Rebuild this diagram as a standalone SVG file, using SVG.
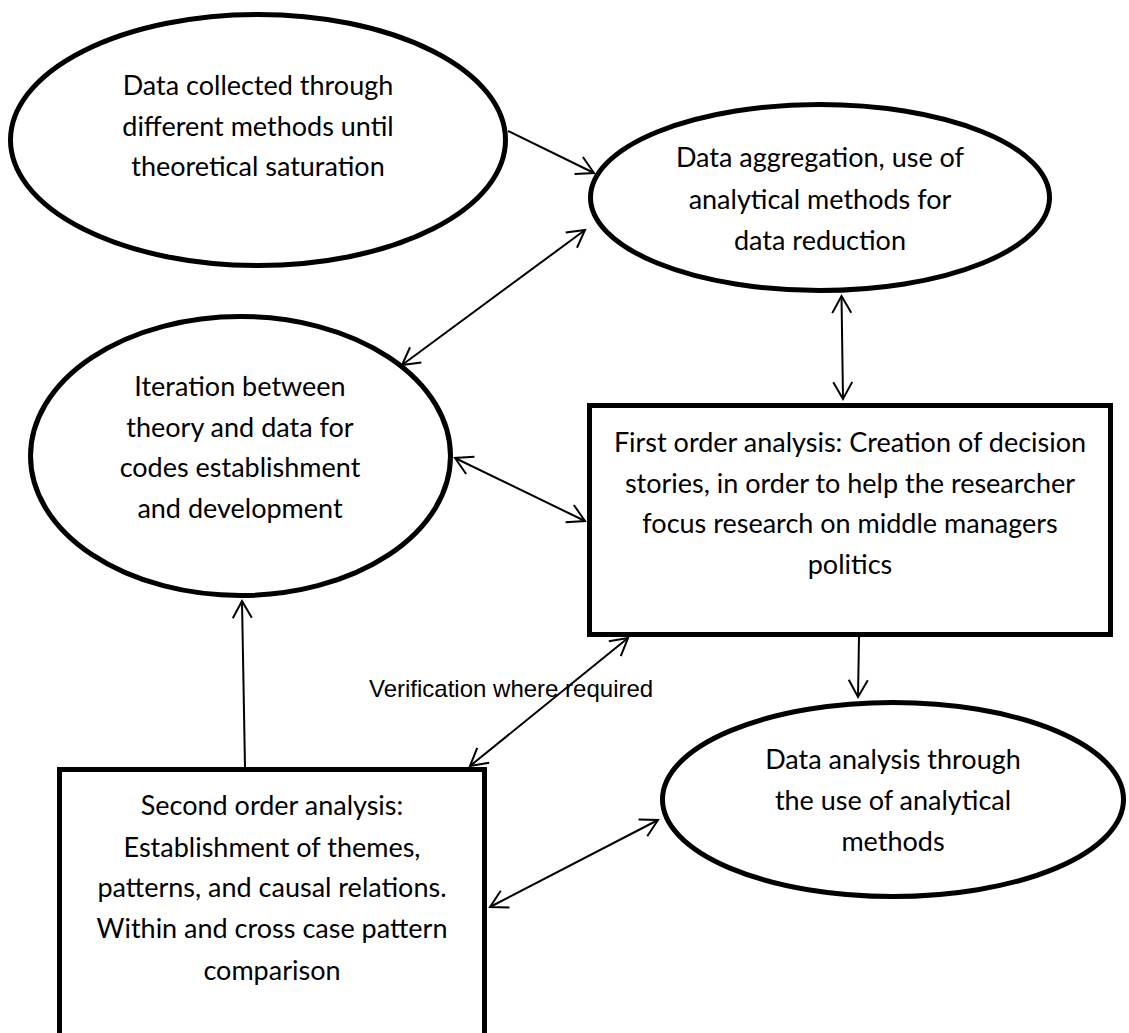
<svg xmlns="http://www.w3.org/2000/svg" width="1129" height="1033" viewBox="0 0 1129 1033">
  <style>
    .node { fill: #fff; stroke: #000; stroke-width: 5; }
    .lbl { font-family: Lato, "Open Sans", sans-serif; font-size: 27px; fill: #000; text-anchor: middle; }
    .edge { fill: none; stroke: #000; stroke-width: 2; }
    .note { font-family: "Liberation Sans", Arial, sans-serif; font-size: 24px; fill: #000; }
  </style>
  <defs>
    <marker id="head" viewBox="-20 -12 24 24" refX="0" refY="0" markerWidth="24" markerHeight="24" markerUnits="userSpaceOnUse" orient="auto-start-reverse" overflow="visible">
      <path d="M-17,-9.5 L0,0 L-17,9.5" fill="none" stroke="#000" stroke-width="2"/>
    </marker>
  </defs>
  <rect width="1129" height="1033" fill="#fff"/>

  <g id="data-collected">
    <ellipse class="node" cx="258" cy="140" rx="247.5" ry="125.5"/>
    <text class="lbl" x="258" y="95">Data collected through</text>
    <text class="lbl" x="258" y="135.5">different methods until</text>
    <text class="lbl" x="258" y="176">theoretical saturation</text>
  </g>

  <g id="data-aggregation">
    <ellipse class="node" cx="820" cy="197.5" rx="229.5" ry="93"/>
    <text class="lbl" x="820" y="167">Data aggregation, use of</text>
    <text class="lbl" x="820" y="208.5">analytical methods for</text>
    <text class="lbl" x="820" y="250">data reduction</text>
  </g>

  <g id="iteration">
    <ellipse class="node" cx="240.5" cy="456" rx="210" ry="139.5"/>
    <text class="lbl" x="240" y="396">Iteration between</text>
    <text class="lbl" x="240" y="436.5">theory and data for</text>
    <text class="lbl" x="240" y="477">codes establishment</text>
    <text class="lbl" x="240" y="518">and development</text>
  </g>

  <g id="first-order">
    <rect class="node" x="589.5" y="405.5" width="521" height="229"/>
    <text class="lbl" x="850" y="452">First order analysis: Creation of decision</text>
    <text class="lbl" x="850" y="492.5">stories, in order to help the researcher</text>
    <text class="lbl" x="850" y="533">focus research on middle managers</text>
    <text class="lbl" x="850" y="573.5">politics</text>
  </g>

  <g id="data-analysis">
    <ellipse class="node" cx="893" cy="799.5" rx="230.5" ry="97"/>
    <text class="lbl" x="893" y="768.5">Data analysis through</text>
    <text class="lbl" x="893" y="810">the use of analytical</text>
    <text class="lbl" x="893" y="851">methods</text>
  </g>

  <g id="second-order">
    <rect class="node" x="59.5" y="769.5" width="425" height="300"/>
    <text class="lbl" x="272" y="815">Second order analysis:</text>
    <text class="lbl" x="272" y="856.5">Establishment of themes,</text>
    <text class="lbl" x="272" y="897">patterns, and causal relations.</text>
    <text class="lbl" x="272" y="938">Within and cross case pattern</text>
    <text class="lbl" x="272" y="980">comparison</text>
  </g>

  <g id="connectors">
    <line class="edge" x1="508" y1="131" x2="594" y2="173" marker-end="url(#head)"/>
    <line class="edge" x1="402" y1="365" x2="585" y2="230" marker-start="url(#head)" marker-end="url(#head)"/>
    <line class="edge" x1="841.5" y1="296" x2="843" y2="399" marker-start="url(#head)" marker-end="url(#head)"/>
    <line class="edge" x1="455" y1="458" x2="585" y2="521" marker-start="url(#head)" marker-end="url(#head)"/>
    <line class="edge" x1="859" y1="637" x2="858" y2="697" marker-end="url(#head)"/>
    <line class="edge" x1="245" y1="767" x2="242" y2="601" marker-end="url(#head)"/>
    <line class="edge" x1="470" y1="766" x2="628" y2="638" marker-start="url(#head)" marker-end="url(#head)"/>
    <line class="edge" x1="490" y1="907" x2="658" y2="820" marker-start="url(#head)" marker-end="url(#head)"/>
    <text class="note" x="369" y="697">Verification where required</text>
  </g>
</svg>
